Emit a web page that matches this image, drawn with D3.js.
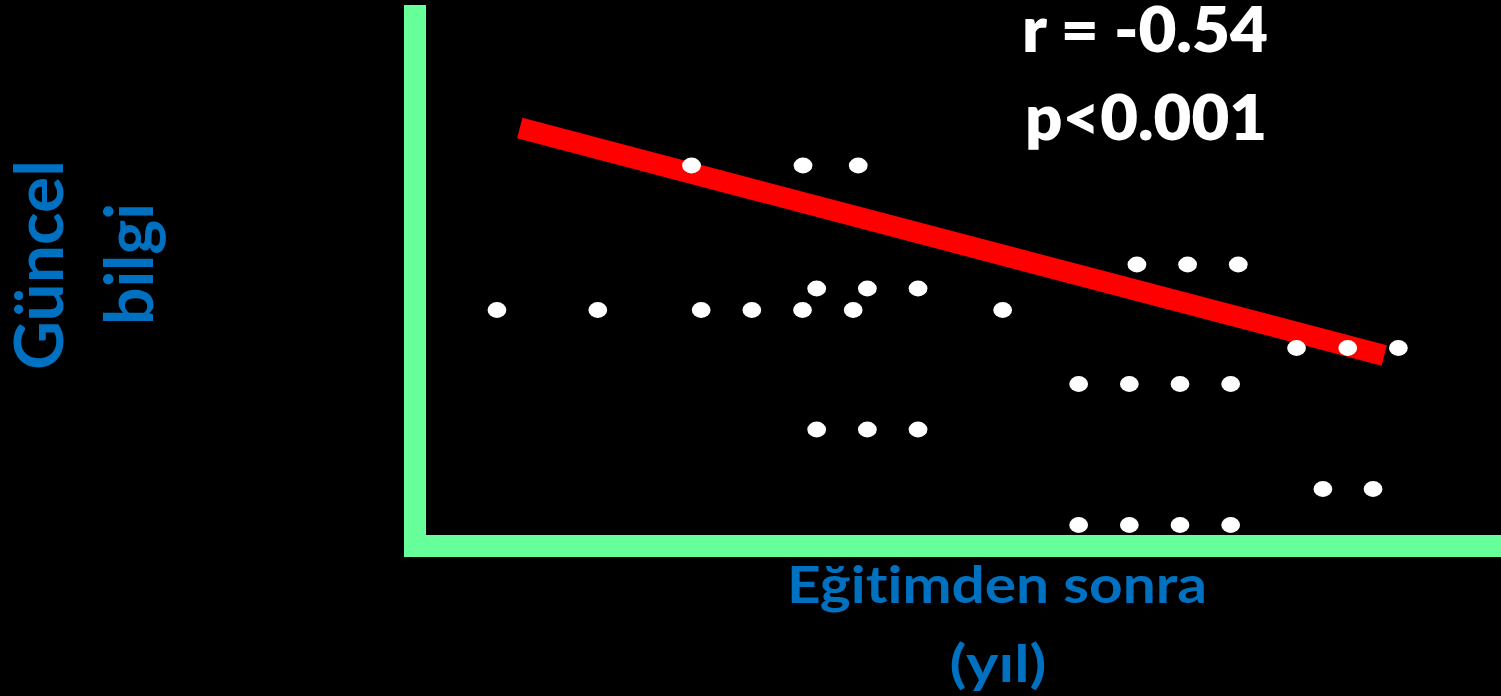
<!DOCTYPE html>
<html>
<head>
<meta charset="utf-8">
<script src="https://cdn.jsdelivr.net/npm/d3@7"></script>
<style>
html,body{margin:0;padding:0;background:#000;overflow:hidden;}
svg{display:block;}
text{font-variant-ligatures:none;font-feature-settings:"liga" 0,"clig" 0;}
</style>
</head>
<body>
<script>
// ---- data ----
const xValues = [1.00, 2.99, 5.03, 6.03, 7.03, 8.03, 10.98,
                 4.84, 7.04, 8.13,
                 7.31, 8.31, 9.31,
                 7.31, 8.31, 9.31,
                 13.63, 14.63, 15.63,
                 16.78, 17.79, 18.79,
                 12.48, 13.48, 14.48, 15.48,
                 17.30, 18.29,
                 12.48, 13.48, 14.48, 15.48];
const yValues = [4.50, 4.50, 4.50, 4.50, 4.50, 4.50, 4.50,
                 7.39, 7.39, 7.39,
                 4.93, 4.93, 4.93,
                 2.11, 2.11, 2.11,
                 5.41, 5.41, 5.41,
                 3.74, 3.74, 3.74,
                 3.02, 3.02, 3.02, 3.02,
                 0.92, 0.92,
                 0.20, 0.20, 0.20, 0.20];
const fitX = [1.45, 18.51];
const fitY = [8.14, 3.59];
const statLabels = ["r = -0.54", "p<0.001"];
const yLabelLines = ["Güncel", "bilgi"];
const xLabelLines = ["Eğitimden sonra", "(yıl)"];

// ---- layout ----
const W = 1501, H = 696;
const svg = d3.select("body").append("svg").attr("width", W).attr("height", H);
svg.append("rect").attr("width", W).attr("height", H).attr("fill", "#000");

const x = d3.scaleLinear().domain([0, 20]).range([446.3, 1459.7]);
const y = d3.scaleLinear().domain([0, 10]).range([535, 35]);

const green = "#66ff99", blue = "#0070c0", font = "Lato, 'Open Sans', sans-serif";

// axes (no ticks)
const axisG = svg.append("g");
axisG.append("rect").attr("x", 404).attr("y", 5).attr("width", 22).attr("height", 552).attr("fill", green);
axisG.append("rect").attr("x", 404).attr("y", 535).attr("width", W - 404).attr("height", 22).attr("fill", green);

// points
const pts = xValues.map((v, i) => ({x: v, y: yValues[i]}));

// regression line
svg.append("line")
  .attr("x1", x(fitX[0])).attr("y1", y(fitY[0]))
  .attr("x2", x(fitX[1])).attr("y2", y(fitY[1]))
  .attr("stroke", "#ff0000").attr("stroke-width", 21).attr("stroke-linecap", "butt");

svg.append("g").selectAll("ellipse").data(pts).join("ellipse")
  .attr("cx", d => x(d.x)).attr("cy", d => y(d.y))
  .attr("rx", 9.4).attr("ry", 7.9).attr("fill", "#fff");

// stats text
const statLen = [246, 242];
svg.append("g").selectAll("text").data(statLabels).join("text")
  .attr("x", (d, i) => [1145, 1146][i]).attr("y", (d, i) => 52 + i * 88)
  .attr("text-anchor", "middle")
  .attr("textLength", (d, i) => statLen[i]).attr("lengthAdjust", "spacingAndGlyphs")
  .attr("font-family", font).attr("font-weight", 800).attr("font-size", 62)
  .attr("fill", "#fff").text(d => d);

// x label
const xLen = [420, 97];
svg.append("g").selectAll("text").data(xLabelLines).join("text")
  .attr("x", (d, i) => [997, 998][i]).attr("y", (d, i) => 603 + i * 79)
  .attr("text-anchor", "middle")
  .attr("textLength", (d, i) => xLen[i]).attr("lengthAdjust", "spacingAndGlyphs")
  .attr("font-family", font).attr("font-weight", 700).attr("font-size", 51)
  .attr("fill", blue).text(d => d);

// y label
const yLen = [210, 122];
svg.append("g").selectAll("text").data(yLabelLines).join("text")
  .attr("transform", (d, i) => `translate(${63 + i * 90},${[265, 264][i]}) rotate(-90)`)
  .attr("text-anchor", "middle")
  .attr("textLength", (d, i) => yLen[i]).attr("lengthAdjust", "spacingAndGlyphs")
  .attr("font-family", font).attr("font-weight", 700).attr("font-size", 67)
  .attr("fill", blue).text(d => d);
</script>
</body>
</html>
